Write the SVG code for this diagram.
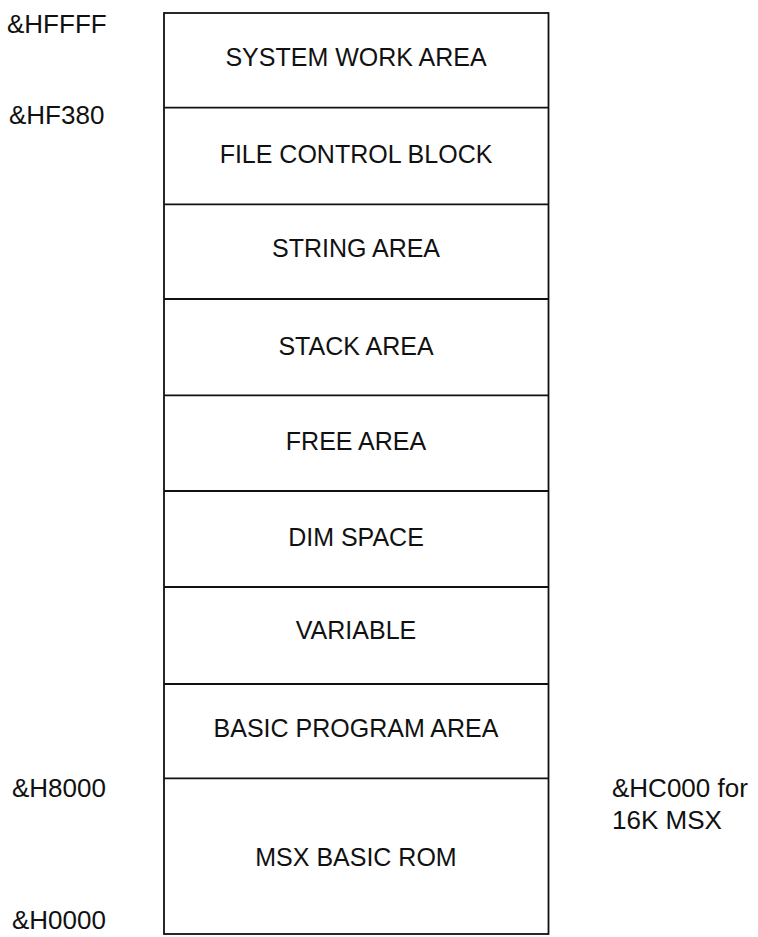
<svg xmlns="http://www.w3.org/2000/svg" width="758" height="937" viewBox="0 0 758 937">
<style>
.box{fill:none;stroke:#111;stroke-width:1.8}
.div{stroke:#111;stroke-width:1.8}
.lbl{font-family:"Liberation Sans",Arial,sans-serif;font-size:25px;fill:#111;text-anchor:middle}
.addr{font-family:"Liberation Sans",Arial,sans-serif;font-size:26px;fill:#111}
</style>
<rect x="0" y="0" width="758" height="937" fill="#fff"/>
<g id="frame">
<rect class="box" x="164" y="13" width="384.5" height="921"/>
</g>
<g id="connectors">
<line class="div" x1="164" y1="107.7" x2="548.5" y2="107.7"/>
<line class="div" x1="164" y1="204.3" x2="548.5" y2="204.3"/>
<line class="div" x1="164" y1="299" x2="548.5" y2="299"/>
<line class="div" x1="164" y1="395.3" x2="548.5" y2="395.3"/>
<line class="div" x1="164" y1="491" x2="548.5" y2="491"/>
<line class="div" x1="164" y1="587" x2="548.5" y2="587"/>
<line class="div" x1="164" y1="684" x2="548.5" y2="684"/>
<line class="div" x1="164" y1="778.3" x2="548.5" y2="778.3"/>
</g>
<g id="system-work-area"><text class="lbl" x="356" y="66">SYSTEM WORK AREA</text></g>
<g id="file-control-block"><text class="lbl" x="356" y="163">FILE CONTROL BLOCK</text></g>
<g id="string-area"><text class="lbl" x="356" y="257">STRING AREA</text></g>
<g id="stack-area"><text class="lbl" x="356" y="355">STACK AREA</text></g>
<g id="free-area"><text class="lbl" x="356" y="450">FREE AREA</text></g>
<g id="dim-space"><text class="lbl" x="356" y="546">DIM SPACE</text></g>
<g id="variable"><text class="lbl" x="356" y="639">VARIABLE</text></g>
<g id="basic-program-area"><text class="lbl" x="356" y="737">BASIC PROGRAM AREA</text></g>
<g id="msx-basic-rom"><text class="lbl" x="356" y="866">MSX BASIC ROM</text></g>
<g id="addresses">
<text class="addr" x="7" y="33">&amp;HFFFF</text>
<text class="addr" x="9" y="124">&amp;HF380</text>
<text class="addr" x="12" y="797">&amp;H8000</text>
<text class="addr" x="12" y="929">&amp;H0000</text>
<text class="addr" x="612" y="797">&amp;HC000 for</text>
<text class="addr" x="612" y="829">16K MSX</text>
</g>
</svg>
